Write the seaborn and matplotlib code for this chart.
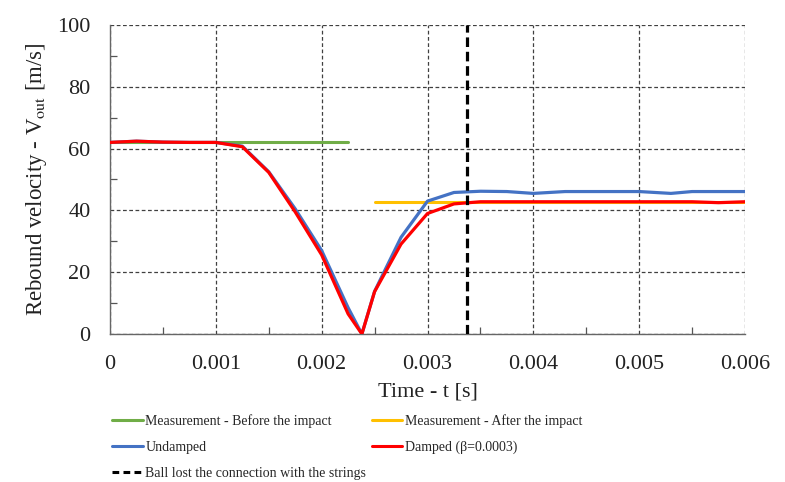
import matplotlib
matplotlib.use("Agg")
import matplotlib.pyplot as plt
import seaborn as sns
import pandas as pd
from matplotlib.ticker import MultipleLocator, FuncFormatter
from matplotlib.lines import Line2D

# Data
t_undamped = [0, 0.00025, 0.0005, 0.00075, 0.001, 0.00125, 0.0015, 0.00175, 0.002, 0.00225, 0.00238,
              0.0025, 0.00275, 0.003, 0.00325, 0.0035, 0.00375, 0.004, 0.0043, 0.0045, 0.00475,
              0.005, 0.0053, 0.0055, 0.00575, 0.006]
v_undamped = [62.0, 62.4, 62.1, 62.0, 62.0, 60.8, 52.5, 40.5, 27.0, 8.5, 0.0,
              13.8, 31.3, 43.0, 45.8, 46.2, 46.1, 45.5, 46.1, 46.1, 46.1,
              46.1, 45.5, 46.1, 46.1, 46.1]
t_damped = [0, 0.00025, 0.0005, 0.00075, 0.001, 0.00125, 0.0015, 0.00175, 0.002, 0.00225, 0.00238,
            0.0025, 0.00275, 0.003, 0.00325, 0.0035, 0.00375, 0.004, 0.0045, 0.005, 0.0055,
            0.00575, 0.006]
v_damped = [62.0, 62.4, 62.1, 62.0, 62.0, 60.6, 52.3, 39.5, 25.6, 6.5, 0.0,
            13.7, 29.1, 39.0, 42.1, 42.8, 42.8, 42.8, 42.8, 42.8, 42.8,
            42.5, 42.8]
t_before = [0, 0.00225]
v_before = [62.1, 62.1]
t_after = [0.0025, 0.006]
v_after = [42.8, 42.8]
t_lost = 0.003375

sns.set_theme(style="white")
plt.rcParams['font.family'] = ['Liberation Serif', 'DejaVu Serif']
plt.rcParams['mathtext.fontset'] = 'stix'

fig = plt.figure(figsize=(7.85, 4.82), dpi=100)
ax = fig.add_axes([110/785, 1-334/482, 635/785, 309/482])

sns.lineplot(x=t_before, y=v_before, ax=ax, color="#70ad47", lw=2.2, zorder=2)
sns.lineplot(x=t_after, y=v_after, ax=ax, color="#ffc000", lw=2.2, zorder=2)
sns.lineplot(x=t_undamped, y=v_undamped, ax=ax, color="#4472c4", lw=2.3, zorder=3)
sns.lineplot(x=t_damped, y=v_damped, ax=ax, color="#ff0000", lw=2.3, zorder=4)
ax.axvline(t_lost, color="black", lw=2.3, ls=(0, (3, 1.5)), zorder=5)

ax.set_xlim(0, 0.006)
ax.set_ylim(0, 100)
ax.xaxis.set_major_locator(MultipleLocator(0.001))
ax.xaxis.set_minor_locator(MultipleLocator(0.0005))
ax.yaxis.set_major_locator(MultipleLocator(20))
ax.yaxis.set_minor_locator(MultipleLocator(10))
ax.xaxis.set_major_formatter(FuncFormatter(lambda v, p: "0" if abs(v) < 1e-12 else f"{v:.3f}"))
ax.grid(True, which="major", color="#404040", ls=(0, (3, 2)), lw=0.9)
ax.tick_params(which="major", length=0, labelsize=16, colors="#222222")
ax.tick_params(axis="x", which="major", pad=15)
ax.tick_params(axis="y", which="major", pad=14)
ax.tick_params(which="minor", direction="in", length=5, width=0.9, color="#555555",
               bottom=True, left=True)
for s in ["top", "right"]:
    ax.spines[s].set_visible(False)
for s in ["left", "bottom"]:
    ax.spines[s].set_color("#666666")
    ax.spines[s].set_linewidth(1.0)

ax.set_xlabel("Time - t [s]", fontsize=16, labelpad=6, color="#222222")
ax.set_ylabel("Rebound velocity - V$_{\\mathrm{out}}$ [m/s]", fontsize=16.5, labelpad=6, color="#222222")

handles = [
    Line2D([], [], color="#70ad47", lw=2.2),
    Line2D([], [], color="#4472c4", lw=2.2),
    Line2D([], [], color="black", lw=2.2, ls=(0, (2.2, 1.4))),
    Line2D([], [], color="#ffc000", lw=2.2),
    Line2D([], [], color="#ff0000", lw=2.2),
]
labels = ["Measurement - Before the impact", "Undamped", "Ball lost the connection with the strings",
          "Measurement - After the impact", "Damped (β=0.0003)"]
fig.legend(handles, labels, ncol=2, loc="upper left", bbox_to_anchor=(112/785, 1-414/482),
           frameon=False, fontsize=10, handlelength=2.2, handletextpad=0.2,
           columnspacing=0.4, labelspacing=0.95, borderaxespad=0, borderpad=0)

fig.savefig("out.png", dpi=100)
